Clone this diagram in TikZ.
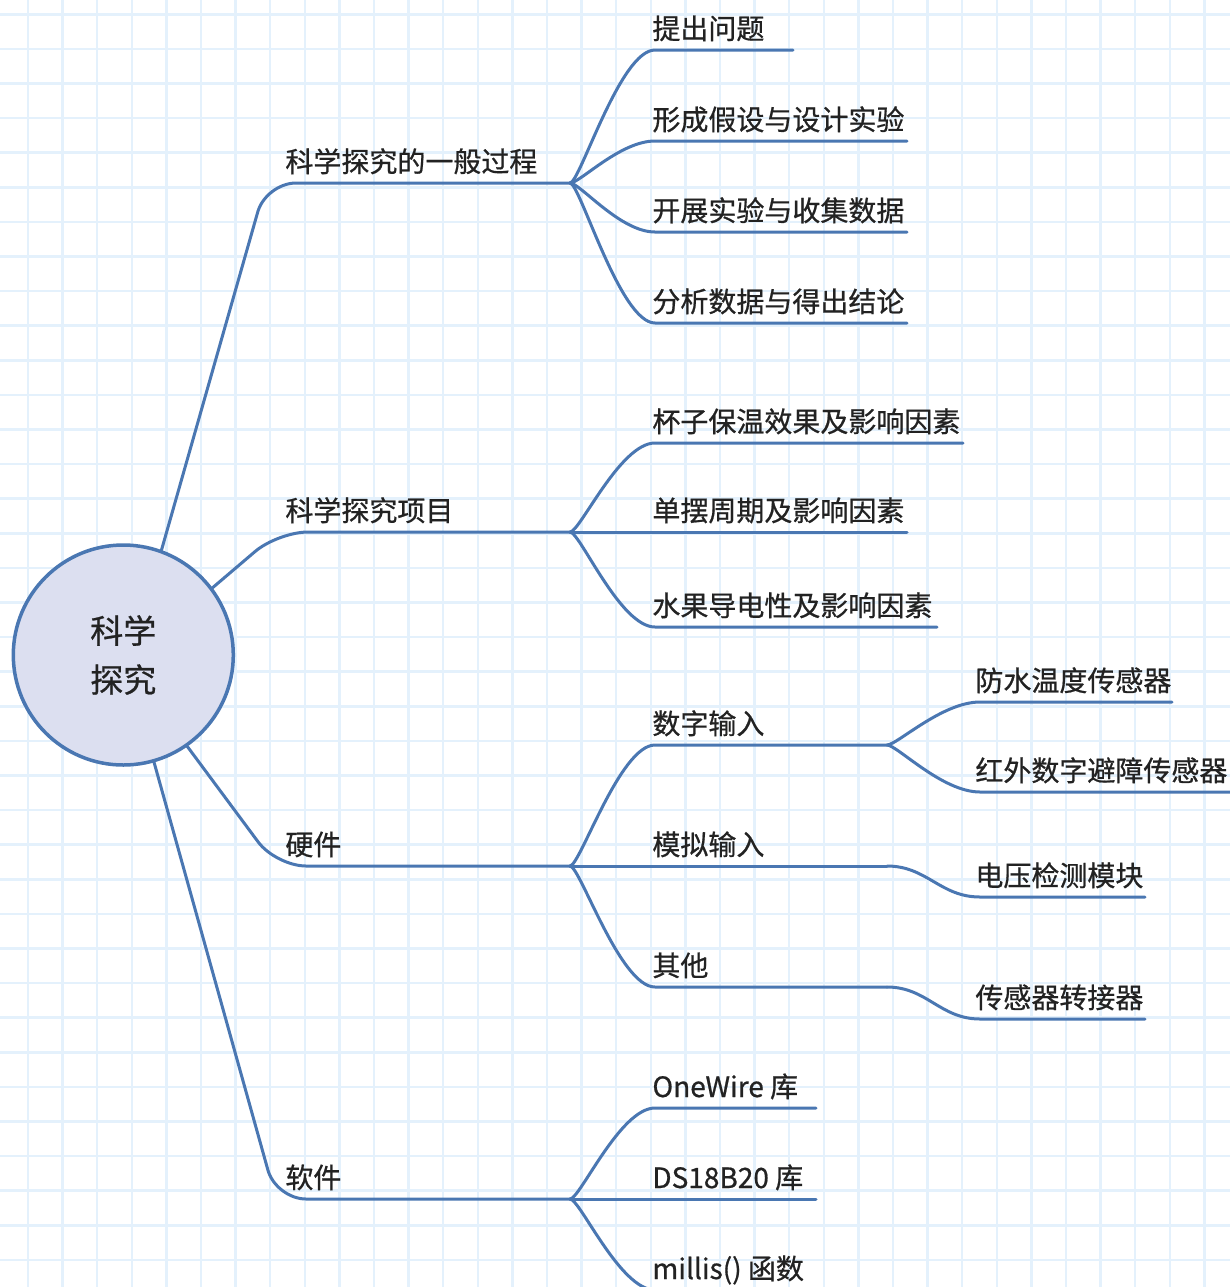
\documentclass[tikz,border=0pt]{standalone}
\usepackage{fontspec}
\setmainfont{Noto Sans CJK SC}[FakeBold=0.7,UprightFeatures={FakeBold=0.7}]
\definecolor{gridblue}{RGB}{228,241,252}
\definecolor{linkblue}{RGB}{74,119,178}
\definecolor{rootfill}{RGB}{220,223,240}
\definecolor{ink}{RGB}{34,34,34}

\begin{document}
\begin{tikzpicture}[x=0.5pt,y=-0.5pt,
  link/.style={draw=linkblue,line width=1.5pt,line cap=round},
  lbl/.style={anchor=base west,inner sep=0pt,text=ink,font=\fontsize{14pt}{16pt}\selectfont},
  rootnode/.style={circle,draw=linkblue,line width=1.75pt,fill=rootfill,minimum size=110pt,
    inner sep=0pt,align=center,text=ink,font=\fontsize{16.5pt}{24.5pt}\selectfont}]
\useasboundingbox (0,0) rectangle (1230,1287);
\clip (0,0) rectangle (1230,1287);
\fill[white] (0,0) rectangle (1230,1287);

% squared paper
\foreach \i in {0,...,35} \draw[gridblue,line width=1.25pt] ({28+34.6*\i},0) -- ({28+34.6*\i},1287);
\foreach \i in {0,...,36} \draw[gridblue,line width=1.25pt] (0,{14.3+34.6*\i}) -- (1230,{14.3+34.6*\i});

% ---------- first level ----------
\coordinate (k1) at (266,183);  \coordinate (j1) at (570,183);
\coordinate (k2) at (278,532);  \coordinate (j2) at (570,532);
\coordinate (k3) at (276,866);  \coordinate (j3) at (570,866);
\coordinate (k4) at (276,1199); \coordinate (j4) at (570,1199);

\node[rootnode] (root) at (123.3,655) {科学\\探究};

\draw[link,rounded corners=15pt] (root.70) -- (k1) -- (j1);
\draw[link,rounded corners=15pt] (root.37) -- (k2) -- (j2);
\draw[link,rounded corners=15pt] (root.-55) -- (k3) -- (j3);
\draw[link,rounded corners=15pt] (root.-74) -- (k4) -- (j4);

\node[lbl] (p1) at (285,172) {科学探究的一般过程};
\node[lbl] (p2) at (285,521) {科学探究项目};
\node[lbl] (p3) at (285,855) {硬件};
\node[lbl] (p4) at (285,1188) {软件};

% ---------- general process ----------
\coordinate (c11) at (655,50);  \coordinate (e11) at (793,50);
\coordinate (c12) at (655,141); \coordinate (e12) at (907,141);
\coordinate (c13) at (655,232); \coordinate (e13) at (907,232);
\coordinate (c14) at (655,323); \coordinate (e14) at (907,323);
\draw[link] (j1) .. controls +(10,0) and +(-35,0) .. (c11) -- (e11);
\draw[link] (j1) .. controls +(10,0) and +(-35,0) .. (c12) -- (e12);
\draw[link] (j1) .. controls +(10,0) and +(-35,0) .. (c13) -- (e13);
\draw[link] (j1) .. controls +(10,0) and +(-35,0) .. (c14) -- (e14);
\node[lbl] (q11) at (652,39)  {提出问题};
\node[lbl] (q12) at (652,130) {形成假设与设计实验};
\node[lbl] (q13) at (652,221) {开展实验与收集数据};
\node[lbl] (q14) at (652,312) {分析数据与得出结论};

% ---------- projects ----------
\coordinate (c21) at (655,443); \coordinate (e21) at (963,443);
\coordinate (e22) at (907,532);
\coordinate (c23) at (655,627); \coordinate (e23) at (937,627);
\draw[link] (j2) .. controls +(10,0) and +(-35,0) .. (c21) -- (e21);
\draw[link] (j2) -- (e22);
\draw[link] (j2) .. controls +(10,0) and +(-35,0) .. (c23) -- (e23);
\node[lbl] (q21) at (652,432) {杯子保温效果及影响因素};
\node[lbl] (q22) at (652,521) {单摆周期及影响因素};
\node[lbl] (q23) at (652,616) {水果导电性及影响因素};

% ---------- hardware ----------
\coordinate (c31) at (655,745); \coordinate (j5) at (887,745);
\coordinate (j6) at (887,866);
\coordinate (c33) at (655,987); \coordinate (j7) at (887,987);
\draw[link] (j3) .. controls +(10,0) and +(-35,0) .. (c31) -- (j5);
\draw[link] (j3) -- (j6);
\draw[link] (j3) .. controls +(10,0) and +(-35,0) .. (c33) -- (j7);
\node[lbl] (q31) at (652,734) {数字输入};
\node[lbl] (q32) at (652,855) {模拟输入};
\node[lbl] (q33) at (652,976) {其他};

\coordinate (c51) at (980,702);  \coordinate (e51) at (1172,702);
\coordinate (c52) at (980,792);  \coordinate (e52) at (1232,792);
\coordinate (c61) at (980,897);  \coordinate (e61) at (1145,897);
\coordinate (c71) at (980,1019); \coordinate (e71) at (1145,1019);
\draw[link] (j5) .. controls +(10,0) and +(-38,0) .. (c51) -- (e51);
\draw[link] (j5) .. controls +(10,0) and +(-38,0) .. (c52) -- (e52);
\draw[link] (j6) .. controls +(40,0) and +(-40,0) .. (c61) -- (e61);
\draw[link] (j7) .. controls +(40,0) and +(-40,0) .. (c71) -- (e71);
\node[lbl] (r51) at (975,691)  {防水温度传感器};
\node[lbl] (r52) at (975,781)  {红外数字避障传感器};
\node[lbl] (r61) at (975,886)  {电压检测模块};
\node[lbl] (r71) at (975,1008) {传感器转接器};

% ---------- software ----------
\coordinate (c41) at (655,1108); \coordinate (e41) at (816,1108);
\coordinate (e42) at (816,1199);
\coordinate (c43) at (655,1290); \coordinate (e43) at (800,1290);
\draw[link] (j4) .. controls +(10,0) and +(-35,0) .. (c41) -- (e41);
\draw[link] (j4) -- (e42);
\draw[link] (j4) .. controls +(10,0) and +(-35,0) .. (c43) -- (e43);
\node[lbl] (q41) at (652,1097) {OneWire 库};
\node[lbl] (q42) at (652,1188) {DS18B20 库};
\node[lbl] (q43) at (652,1279) {millis() 函数};
\end{tikzpicture}
\end{document}
